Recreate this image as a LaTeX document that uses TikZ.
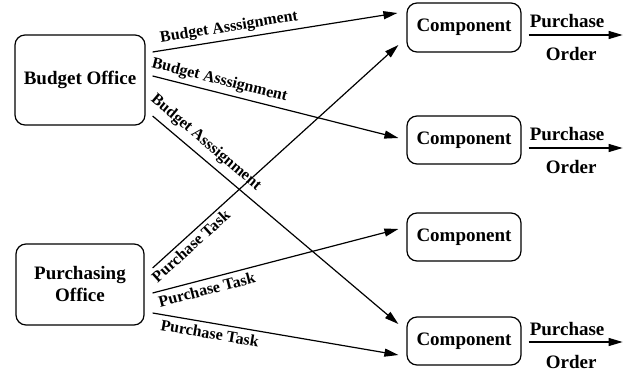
\documentclass[tikz,border=0pt]{standalone}
\usepackage{fontspec}
\setmainfont{Liberation Serif}
\usetikzlibrary{arrows.meta,calc}
\begin{document}
\begin{tikzpicture}[x=1pt,y=1pt,
  box/.style={draw, line width=1.2pt, rounded corners=10pt, font=\fontsize{19}{22}\selectfont\bfseries, align=center, inner sep=0pt},
  flow/.style={line width=1.2pt, -{Triangle[length=14pt,width=8pt]}},
  lbl/.style={font=\fontsize{16}{19}\selectfont\bfseries, sloped, inner sep=4pt},
  potxt/.style={font=\fontsize{19}{22}\selectfont\bfseries, inner sep=0pt, anchor=base}]
\useasboundingbox (0,0) rectangle (624,370);
\node[box, minimum width=130pt, minimum height=90pt] (bo) at (80,290) {Budget Office};
\node[box, minimum width=128pt, minimum height=81pt] (pu) at (80,85.5) {Purchasing\\Office};
\node[box, minimum width=114pt, minimum height=49pt] (c1) at (464,342.5) {Component};
\node[box, minimum width=114pt, minimum height=48pt] (c2) at (464,230) {Component};
\node[box, minimum width=114pt, minimum height=48pt] (c3) at (464,133) {Component};
\node[box, minimum width=114pt, minimum height=48pt] (c4) at (464,29) {Component};
% budget assignments
\draw[flow] ($(bo.east)+(7,28)$) -- node[lbl, above, pos=0.32] {Budget Asssignment} ($(c1.west)+(-9,14.5)$);
\draw[flow] ($(bo.east)+(7,4)$) -- node[lbl, above, pos=0.26] {Budget Asssignment} ($(c2.west)+(-8,2)$);
\draw[flow] ($(bo.east)+(7,-36)$) -- node[lbl, above, pos=0.18, inner sep=6pt] {Budget Asssignment} ($(c4.west)+(-8,17)$);
% purchase tasks
\draw[flow] ($(pu.east)+(8,16.5)$) -- node[lbl, below, pos=0.13, inner sep=3pt] {Purchase Task} ($(c1.west)+(-8,-17.5)$);
\draw[flow] ($(pu.east)+(8,-8.5)$) -- node[lbl, below, pos=0.21] {Purchase Task} ($(c3.west)+(-8,8)$);
\draw[flow] ($(pu.east)+(8,-28.5)$) -- node[lbl, below, pos=0.24] {Purchase Task} ($(c4.west)+(-8,-14)$);
% purchase orders
\foreach \c/\dy in {c1/-7.5, c2/-8, c4/-1} {
  \coordinate (\c s) at ($(\c.east)+(7,\dy)$);
  \coordinate (\c e) at ($(\c s)+(94,0)$);
  \draw[flow] (\c s) -- (\c e);
  \node[potxt] (\c p) at ($(\c s)+(38.5,7)$) {Purchase};
  \node[potxt] (\c o) at ($(\c s)+(42.5,-26)$) {Order};
}
\end{tikzpicture}
\end{document}
